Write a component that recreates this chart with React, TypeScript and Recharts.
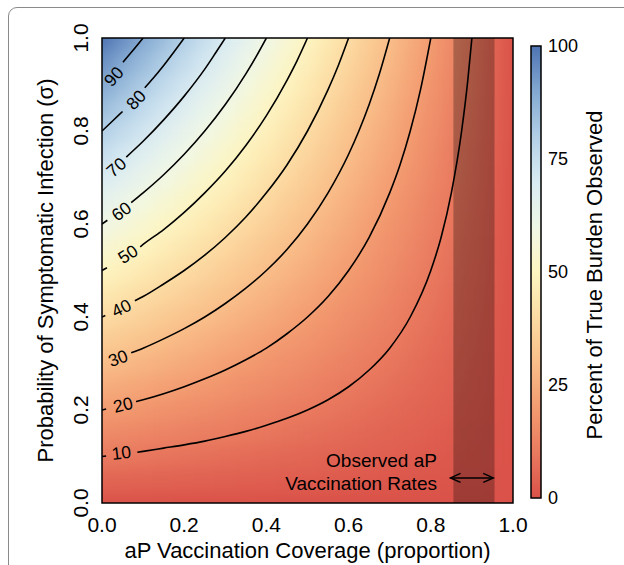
import React from 'react';
import {
  ComposedChart, Scatter, Line, Bar, XAxis, YAxis, ReferenceArea, ReferenceLine, ReferenceDot, Label,
} from 'recharts';

const FONT = '"Liberation Sans", Arial, Helvetica, sans-serif';

// heat map grid: aP coverage across, sigma up, percent of true burden observed
const coverageSteps = [0, 0.05, 0.1, 0.15, 0.2, 0.25, 0.3, 0.35, 0.4, 0.45, 0.5, 0.55, 0.6, 0.65, 0.7, 0.75, 0.8, 0.85, 0.9, 0.95, 1];
const sigmaSteps = [0, 0.05, 0.1, 0.15, 0.2, 0.25, 0.3, 0.35, 0.4, 0.45, 0.5, 0.55, 0.6, 0.65, 0.7, 0.75, 0.8, 0.85, 0.9, 0.95, 1];
const burdenGrid = [
  [0, 0, 0, 0, 0, 0, 0, 0, 0, 0, 0, 0, 0, 0, 0, 0, 0, 0, 0, 0, 0],
  [5, 4.75, 4.5, 4.25, 4, 3.75, 3.5, 3.25, 3, 2.75, 2.5, 2.25, 2, 1.75, 1.5, 1.25, 1, 0.75, 0.5, 0.25, 0],
  [10, 9.5, 9, 8.5, 8, 7.5, 7, 6.5, 6, 5.5, 5, 4.5, 4, 3.5, 3, 2.5, 2, 1.5, 1, 0.5, 0],
  [15, 14.25, 13.5, 12.75, 12, 11.25, 10.5, 9.75, 9, 8.25, 7.5, 6.75, 6, 5.25, 4.5, 3.75, 3, 2.25, 1.5, 0.75, 0],
  [20, 19, 18, 17, 16, 15, 14, 13, 12, 11, 10, 9, 8, 7, 6, 5, 4, 3, 2, 1, 0],
  [25, 23.75, 22.5, 21.25, 20, 18.75, 17.5, 16.25, 15, 13.75, 12.5, 11.25, 10, 8.75, 7.5, 6.25, 5, 3.75, 2.5, 1.25, 0],
  [30, 28.5, 27, 25.5, 24, 22.5, 21, 19.5, 18, 16.5, 15, 13.5, 12, 10.5, 9, 7.5, 6, 4.5, 3, 1.5, 0],
  [35, 33.25, 31.5, 29.75, 28, 26.25, 24.5, 22.75, 21, 19.25, 17.5, 15.75, 14, 12.25, 10.5, 8.75, 7, 5.25, 3.5, 1.75, 0],
  [40, 38, 36, 34, 32, 30, 28, 26, 24, 22, 20, 18, 16, 14, 12, 10, 8, 6, 4, 2, 0],
  [45, 42.75, 40.5, 38.25, 36, 33.75, 31.5, 29.25, 27, 24.75, 22.5, 20.25, 18, 15.75, 13.5, 11.25, 9, 6.75, 4.5, 2.25, 0],
  [50, 47.5, 45, 42.5, 40, 37.5, 35, 32.5, 30, 27.5, 25, 22.5, 20, 17.5, 15, 12.5, 10, 7.5, 5, 2.5, 0],
  [55, 52.25, 49.5, 46.75, 44, 41.25, 38.5, 35.75, 33, 30.25, 27.5, 24.75, 22, 19.25, 16.5, 13.75, 11, 8.25, 5.5, 2.75, 0],
  [60, 57, 54, 51, 48, 45, 42, 39, 36, 33, 30, 27, 24, 21, 18, 15, 12, 9, 6, 3, 0],
  [65, 61.75, 58.5, 55.25, 52, 48.75, 45.5, 42.25, 39, 35.75, 32.5, 29.25, 26, 22.75, 19.5, 16.25, 13, 9.75, 6.5, 3.25, 0],
  [70, 66.5, 63, 59.5, 56, 52.5, 49, 45.5, 42, 38.5, 35, 31.5, 28, 24.5, 21, 17.5, 14, 10.5, 7, 3.5, 0],
  [75, 71.25, 67.5, 63.75, 60, 56.25, 52.5, 48.75, 45, 41.25, 37.5, 33.75, 30, 26.25, 22.5, 18.75, 15, 11.25, 7.5, 3.75, 0],
  [80, 76, 72, 68, 64, 60, 56, 52, 48, 44, 40, 36, 32, 28, 24, 20, 16, 12, 8, 4, 0],
  [85, 80.75, 76.5, 72.25, 68, 63.75, 59.5, 55.25, 51, 46.75, 42.5, 38.25, 34, 29.75, 25.5, 21.25, 17, 12.75, 8.5, 4.25, 0],
  [90, 85.5, 81, 76.5, 72, 67.5, 63, 58.5, 54, 49.5, 45, 40.5, 36, 31.5, 27, 22.5, 18, 13.5, 9, 4.5, 0],
  [95, 90.25, 85.5, 80.75, 76, 71.25, 66.5, 61.75, 57, 52.25, 47.5, 42.75, 38, 33.25, 28.5, 23.75, 19, 14.25, 9.5, 4.75, 0],
  [100, 95, 90, 85, 80, 75, 70, 65, 60, 55, 50, 45, 40, 35, 30, 25, 20, 15, 10, 5, 0],
];

// contour lines, split where the label sits
const stub10 = [{ v: 0, s: 0.1 }, { v: 0.01, s: 0.101 }];
const main10 = [
  { v: 0.086, s: 0.109 }, { v: 0.1, s: 0.111 }, { v: 0.15, s: 0.118 }, { v: 0.2, s: 0.125 }, { v: 0.25, s: 0.133 },
  { v: 0.3, s: 0.143 }, { v: 0.35, s: 0.154 }, { v: 0.4, s: 0.167 }, { v: 0.45, s: 0.182 }, { v: 0.5, s: 0.2 },
  { v: 0.55, s: 0.222 }, { v: 0.6, s: 0.25 }, { v: 0.65, s: 0.286 }, { v: 0.7, s: 0.333 }, { v: 0.75, s: 0.4 },
  { v: 0.8, s: 0.5 }, { v: 0.825, s: 0.571 }, { v: 0.85, s: 0.667 }, { v: 0.875, s: 0.8 }, { v: 0.89, s: 0.909 }, { v: 0.9, s: 1 },
];
const stub20 = [{ v: 0, s: 0.2 }, { v: 0.01, s: 0.202 }];
const main20 = [
  { v: 0.083, s: 0.218 }, { v: 0.1, s: 0.222 }, { v: 0.15, s: 0.235 }, { v: 0.2, s: 0.25 }, { v: 0.25, s: 0.267 },
  { v: 0.3, s: 0.286 }, { v: 0.35, s: 0.308 }, { v: 0.4, s: 0.333 }, { v: 0.45, s: 0.364 }, { v: 0.5, s: 0.4 },
  { v: 0.55, s: 0.444 }, { v: 0.6, s: 0.5 }, { v: 0.65, s: 0.571 }, { v: 0.7, s: 0.667 }, { v: 0.725, s: 0.727 },
  { v: 0.75, s: 0.8 }, { v: 0.775, s: 0.889 }, { v: 0.8, s: 1 },
];
const main30 = [
  { v: 0.071, s: 0.323 }, { v: 0.1, s: 0.333 }, { v: 0.15, s: 0.353 }, { v: 0.2, s: 0.375 }, { v: 0.25, s: 0.4 },
  { v: 0.3, s: 0.429 }, { v: 0.35, s: 0.462 }, { v: 0.4, s: 0.5 }, { v: 0.45, s: 0.545 }, { v: 0.5, s: 0.6 },
  { v: 0.55, s: 0.667 }, { v: 0.6, s: 0.75 }, { v: 0.625, s: 0.8 }, { v: 0.65, s: 0.857 }, { v: 0.675, s: 0.923 }, { v: 0.7, s: 1 },
];
const stub40 = [{ v: 0, s: 0.4 }, { v: 0.008, s: 0.403 }];
const main40 = [
  { v: 0.08, s: 0.435 }, { v: 0.1, s: 0.444 }, { v: 0.15, s: 0.471 }, { v: 0.2, s: 0.5 }, { v: 0.25, s: 0.533 },
  { v: 0.3, s: 0.571 }, { v: 0.35, s: 0.615 }, { v: 0.4, s: 0.667 }, { v: 0.45, s: 0.727 }, { v: 0.5, s: 0.8 },
  { v: 0.55, s: 0.889 }, { v: 0.575, s: 0.941 }, { v: 0.6, s: 1 },
];
const stub50 = [{ v: 0, s: 0.5 }, { v: 0.012, s: 0.506 }];
const main50 = [
  { v: 0.093, s: 0.551 }, { v: 0.1, s: 0.556 }, { v: 0.15, s: 0.588 }, { v: 0.2, s: 0.625 }, { v: 0.25, s: 0.667 },
  { v: 0.3, s: 0.714 }, { v: 0.35, s: 0.769 }, { v: 0.4, s: 0.833 }, { v: 0.45, s: 0.909 }, { v: 0.475, s: 0.952 }, { v: 0.5, s: 1 },
];
const stub60 = [{ v: 0, s: 0.6 }, { v: 0.013, s: 0.608 }];
const main60 = [
  { v: 0.071, s: 0.646 }, { v: 0.1, s: 0.667 }, { v: 0.15, s: 0.706 }, { v: 0.2, s: 0.75 }, { v: 0.25, s: 0.8 },
  { v: 0.3, s: 0.857 }, { v: 0.35, s: 0.923 }, { v: 0.375, s: 0.96 }, { v: 0.4, s: 1 },
];
const main70 = [
  { v: 0.059, s: 0.744 }, { v: 0.1, s: 0.778 }, { v: 0.15, s: 0.824 }, { v: 0.2, s: 0.875 }, { v: 0.25, s: 0.933 },
  { v: 0.275, s: 0.966 }, { v: 0.3, s: 1 },
];
const stub80 = [{ v: 0, s: 0.8 }, { v: 0.025, s: 0.821 }, { v: 0.05, s: 0.842 }];
const main80 = [{ v: 0.104, s: 0.893 }, { v: 0.125, s: 0.914 }, { v: 0.15, s: 0.941 }, { v: 0.175, s: 0.97 }, { v: 0.2, s: 1 }];
const main90 = [{ v: 0.051, s: 0.948 }, { v: 0.075, s: 0.973 }, { v: 0.1, s: 1 }];

const contourLabels = [
  { v: 0.047, s: 0.108, text: '10' },
  { v: 0.051, s: 0.211, text: '20' },
  { v: 0.039, s: 0.311, text: '30' },
  { v: 0.047, s: 0.419, text: '40' },
  { v: 0.063, s: 0.535, text: '50' },
  { v: 0.047, s: 0.627, text: '60' },
  { v: 0.035, s: 0.722, text: '70' },
  { v: 0.083, s: 0.867, text: '80' },
  { v: 0.029, s: 0.917, text: '90' },
];
const labelAngles = [-7, -14, -20, -26, -33, -37, -40, -47, -48];

const axisTicks = [0, 0.2, 0.4, 0.6, 0.8, 1];
const colorbarTicks = [0, 25, 50, 75, 100];
const colorbarRange = [{ name: 'scale', top: 100 }];
const observedRange = [0.855, 0.955];
const arrowRange = [0.848, 0.952];
const arrowSigma = 0.054;

const colorStops: [number, string][] = [
  [0, '#da5249'], [10, '#e97a5f'], [20, '#f39c71'], [30, '#f9be89'], [40, '#fcdca3'], [50, '#fdf5c1'],
  [60, '#f0f7e6'], [70, '#d9ebf3'], [80, '#b2cfe6'], [90, '#83a8d1'], [100, '#4e74b3'],
];

const hex = (c: string) => [1, 3, 5].map(i => parseInt(c.slice(i, i + 2), 16));
function burdenColor(p: number) {
  for (let i = 1; i < colorStops.length; i++) {
    const [p1, c1] = colorStops[i];
    if (p <= p1) {
      const [p0, c0] = colorStops[i - 1];
      const t = (p - p0) / (p1 - p0);
      const a = hex(c0), b = hex(c1);
      return `rgb(${a.map((x, k) => Math.round(x + (b[k] - x) * t)).join(',')})`;
    }
  }
  return colorStops[colorStops.length - 1][1];
}

const W = 624;
const H = 565;
const M = { top: 38, right: 111, bottom: 17, left: 42 };
const Y_AXIS_W = 60;
const X_AXIS_H = 45;
const PLOT_X = M.left + Y_AXIS_W;
const PLOT_W = W - M.left - M.right - Y_AXIS_W;
const PLOT_H = H - M.top - M.bottom - X_AXIS_H;
const CELL_W = (coverageSteps[1] - coverageSteps[0]) * PLOT_W;
const CELL_H = (sigmaSteps[1] - sigmaSteps[0]) * PLOT_H;

const heatCells = burdenGrid.flatMap((row, k) => row.map((p, j) => ({ v: coverageSteps[j], s: sigmaSteps[k], p })));
const labelData = contourLabels.map((l, i) => ({ ...l, angle: labelAngles[i] }));
const contourLines = [stub10, main10, stub20, main20, main30, stub40, main40, stub50, main50, stub60, main60, main70, stub80, main80, main90];

const HeatCell = (props: any) => {
  const { cx, cy, payload } = props;
  return (
    <rect x={cx - CELL_W / 2 - 0.5} y={cy - CELL_H / 2 - 0.5} width={CELL_W + 1} height={CELL_H + 1}
      fill={burdenColor(payload.p)} />
  );
};

const ContourLabel = (props: any) => {
  const { cx, cy, payload } = props;
  return (
    <text x={cx} y={cy} transform={`rotate(${payload.angle} ${cx} ${cy})`} textAnchor="middle"
      dominantBaseline="central" fontSize={17.5} fontFamily={FONT} fill="#000">{payload.text}</text>
  );
};

const YTick = (props: any) => {
  const { x, y, payload } = props;
  return (
    <text x={x} y={y} transform={`rotate(-90 ${x} ${y})`} textAnchor="middle" fontSize={21}
      fontFamily={FONT} fill="#000">{Number(payload.value).toFixed(1)}</text>
  );
};

const DoubleArrow = (props: any) => {
  const { x1, y1, x2, y2 } = props;
  const h = 10, w = 4.5;
  return (
    <g stroke="#000" strokeWidth={1.5} fill="none">
      <line x1={x1} y1={y1} x2={x2} y2={y2} />
      <polyline points={`${x1 + h},${y1 - w} ${x1},${y1} ${x1 + h},${y1 + w}`} />
      <polyline points={`${x2 - h},${y2 - w} ${x2},${y2} ${x2 - h},${y2 + w}`} />
    </g>
  );
};

const noteText = (text: string) => (props: any) => (
  <text x={props.cx} y={props.cy} textAnchor="end" fontSize={19} fontFamily={FONT} fill="#000">{text}</text>
);

export default function App() {
  return (
    <div style={{ position: 'relative', width: W, height: H, overflow: 'hidden', background: '#fff' }}>
      <style>{'body{margin:0;overflow:hidden}.heat-layer{filter:url(#heatBlur)}'}</style>
      <svg width={0} height={0} style={{ position: 'absolute' }}>
        <defs>
          <filter id="heatBlur" filterUnits="userSpaceOnUse" x={PLOT_X} y={M.top} width={PLOT_W} height={PLOT_H}
            colorInterpolationFilters="sRGB">
            <feGaussianBlur stdDeviation={8} />
            <feComponentTransfer>
              <feFuncA type="linear" slope={5} intercept={0} />
            </feComponentTransfer>
          </filter>
          <linearGradient id="cbGrad" x1="0" y1="1" x2="0" y2="0">
            {colorStops.map(([p, c]) => <stop key={p} offset={p / 100} stopColor={c} />)}
          </linearGradient>
        </defs>
      </svg>
      <div style={{ position: 'absolute', left: 8, top: 7, width: 700, height: 700, border: '1.5px solid #8a8a8a', borderRadius: 9 }} />

      <ComposedChart width={W} height={H} margin={M} style={{ position: 'absolute', left: 0, top: 0 }}>
        <XAxis type="number" dataKey="v" domain={[0, 1]} allowDataOverflow ticks={axisTicks} interval={0}
          tickFormatter={(t: number) => t.toFixed(1)} tickSize={0} tickMargin={14} axisLine={false} tickLine={false}
          height={X_AXIS_H} tick={{ fontSize: 21, fill: '#000', fontFamily: FONT }}>
          <Label content={(p: any) => (
            <text x={p.viewBox.x + p.viewBox.width / 2} y={p.viewBox.y + 54.5} textAnchor="middle" fontSize={22}
              fontFamily={FONT} fill="#000">aP Vaccination Coverage (proportion)</text>
          )} />
        </XAxis>
        <YAxis type="number" dataKey="s" domain={[0, 1]} allowDataOverflow ticks={axisTicks} interval={0}
          width={Y_AXIS_W} tickSize={0} tickMargin={14} axisLine={false} tickLine={false} tick={<YTick />}>
          <Label content={(p: any) => {
            const x = p.viewBox.x + 11;
            const y = p.viewBox.y + p.viewBox.height / 2;
            return (
              <text x={x} y={y} transform={`rotate(-90 ${x} ${y})`} textAnchor="middle" fontSize={22}
                fontFamily={FONT} fill="#000">Probability of Symptomatic Infection (σ)</text>
            );
          }} />
        </YAxis>

        <Scatter data={heatCells} shape={HeatCell} className="heat-layer" isAnimationActive={false} zIndex={1} />
        <ReferenceArea x1={observedRange[0]} x2={observedRange[1]} y1={0} y2={1} fill="#000" fillOpacity={0.27}
          stroke="none" zIndex={2} />
        {contourLines.map((pts, i) => (
          <Line key={i} data={pts} dataKey="s" type="monotone" stroke="#000" strokeWidth={1.6} dot={false}
            activeDot={false} isAnimationActive={false} zIndex={3} />
        ))}
        <Scatter data={labelData} shape={ContourLabel} isAnimationActive={false} zIndex={4} />
        <ReferenceArea x1={0} x2={1} y1={0} y2={1} fill="none" stroke="#000" strokeWidth={1.5} zIndex={5} />
        <ReferenceLine segment={[{ x: arrowRange[0], y: arrowSigma }, { x: arrowRange[1], y: arrowSigma }]}
          shape={DoubleArrow} zIndex={6} />
        <ReferenceDot x={0.815} y={0.078} r={0} shape={noteText('Observed aP')} zIndex={7} />
        <ReferenceDot x={0.815} y={0.028} r={0} shape={noteText('Vaccination Rates')} zIndex={7} />
      </ComposedChart>

      <ComposedChart width={W} height={H} data={colorbarRange} barCategoryGap={0}
        margin={{ top: 46, right: 8, bottom: 67, left: 531 }} style={{ position: 'absolute', left: 0, top: 0 }}>
        <XAxis dataKey="name" hide />
        <YAxis type="number" orientation="right" domain={[0, 100]} ticks={colorbarTicks} interval={0} width={75}
          tickSize={0} tickMargin={7} axisLine={false} tickLine={false}
          tick={{ fontSize: 18, fill: '#000', fontFamily: FONT }}>
          <Label content={(p: any) => {
            const x = 602;
            const y = p.viewBox.y + p.viewBox.height / 2 + 3;
            return (
              <text x={x} y={y} transform={`rotate(-90 ${x} ${y})`} textAnchor="middle" fontSize={22}
                fontFamily={FONT} fill="#000">Percent of True Burden Observed</text>
            );
          }} />
        </YAxis>
        <Bar dataKey="top" fill="url(#cbGrad)" stroke="#000" strokeWidth={1.5} isAnimationActive={false} />
      </ComposedChart>
    </div>
  );
}
